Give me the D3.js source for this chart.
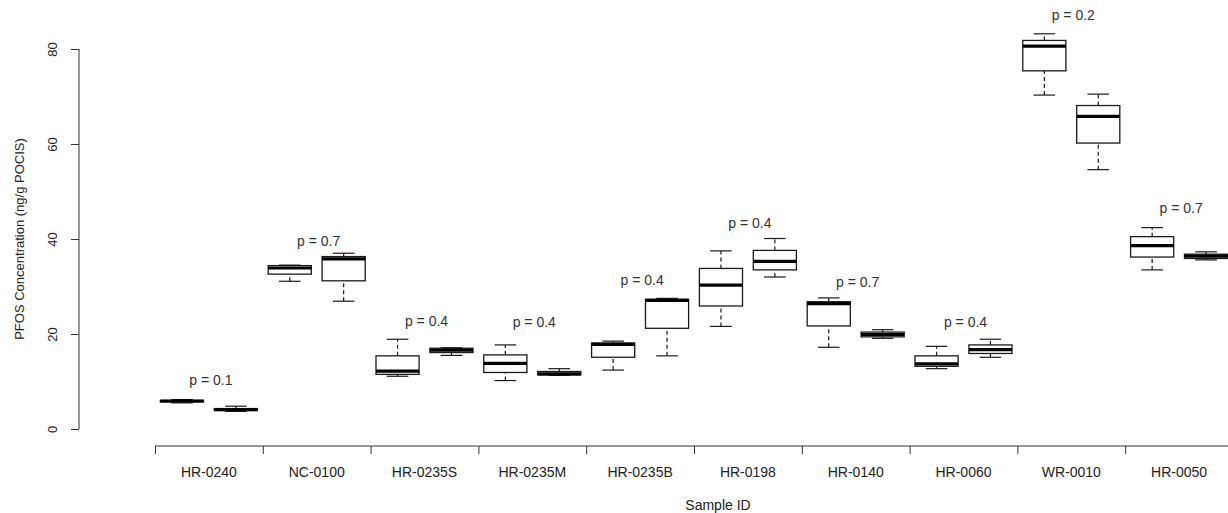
<!DOCTYPE html>
<html>
<head>
<meta charset="utf-8">
<script src="https://cdn.jsdelivr.net/npm/d3@7"></script>
<style>
  html, body { margin: 0; padding: 0; background: #fff; }
  svg { display: block; font-family: "Liberation Sans", Arial, sans-serif; }
</style>
</head>
<body>
<svg id="chart" width="1228" height="513"></svg>
<script>
// ---- data ----
const categories = ["HR-0240","NC-0100","HR-0235S","HR-0235M","HR-0235B","HR-0198","HR-0140","HR-0060","WR-0010","HR-0050"];
// five-number summaries [min, q1, median, q3, max] for the first box of each pair
const seriesA = [
  [5.5, 5.7, 5.9, 6.0, 6.2],
  [31.1, 32.6, 33.9, 34.4, 34.5],
  [11.1, 11.5, 12.2, 15.4, 18.9],
  [10.2, 11.9, 13.8, 15.6, 17.7],
  [12.4, 15.1, 17.8, 18.1, 18.5],
  [21.6, 25.9, 30.3, 33.8, 37.5],
  [17.2, 21.7, 26.4, 26.8, 27.6],
  [12.7, 13.2, 13.7, 15.4, 17.4],
  [70.3, 75.4, 80.6, 81.8, 83.2],
  [33.5, 36.2, 38.6, 40.5, 42.4]
];
// second box of each pair
const seriesB = [
  [3.7, 3.9, 4.1, 4.3, 4.8],
  [26.9, 31.2, 35.8, 36.3, 37.0],
  [15.5, 16.1, 16.6, 17.0, 17.1],
  [11.3, 11.4, 11.6, 12.1, 12.7],
  [15.4, 21.2, 27.1, 27.3, 27.5],
  [32.0, 33.5, 35.3, 37.6, 40.1],
  [19.1, 19.4, 19.9, 20.4, 20.9],
  [15.1, 15.9, 16.7, 17.7, 18.9],
  [54.6, 60.2, 65.8, 68.1, 70.5],
  [35.6, 35.9, 36.4, 36.8, 37.3]
];
const pLabels = ["p = 0.1","p = 0.7","p = 0.4","p = 0.4","p = 0.4","p = 0.4","p = 0.7","p = 0.4","p = 0.2","p = 0.7"];
const pLabelY = [10.2, 39.6, 22.8, 22.5, 31.4, 43.3, 31.0, 22.6, 87.2, 46.5];
const yTicks = [0, 20, 40, 60, 80];
const yTitle = "PFOS Concentration (ng/g POCIS)";
const xTitle = "Sample ID";

// ---- layout ----
const svg = d3.select("#chart");
const x = d3.scaleLinear().domain([0.5, 20.5]).range([155, 1233]);
const y = d3.scaleLinear().domain([0, 80]).range([429, 49]);
const step = x(2) - x(1);
const boxW = 0.8 * step;
const capW = 0.5 * boxW;
const ink = "#1a1a1a";

// y axis
const yAxis = d3.axisLeft(y).tickValues(yTicks).tickSize(8);
const gy = svg.append("g").attr("transform", "translate(79,0)").call(yAxis);
gy.select(".domain").attr("stroke", "#333").attr("d", `M0,${y(0)}V${y(80)}`);
gy.selectAll(".tick line").attr("stroke", "#333");
gy.selectAll(".tick text")
  .attr("font-size", 13).attr("fill", "#222")
  .attr("x", null).attr("y", null).attr("dy", null)
  .attr("transform", "translate(-22,0) rotate(-90)")
  .attr("dy", "-0.0em")
  .attr("text-anchor", "middle");

svg.append("text")
  .attr("transform", `translate(24,${(y(0)+y(80))/2}) rotate(-90)`)
  .attr("text-anchor", "middle").attr("font-size", 13).attr("fill", "#222")
  .text(yTitle);

// x axis
const groupTicks = categories.map((c, i) => 0.5 + 2 * i);
const xAxis = d3.axisBottom(x).tickValues(groupTicks).tickSize(8).tickFormat("");
const gx = svg.append("g").attr("transform", "translate(0,446)").call(xAxis);
gx.select(".domain").attr("stroke", "#333").attr("d", `M${x(0.5)},0H1228`);
gx.selectAll(".tick line").attr("stroke", "#333");

svg.append("g").selectAll("text").data(categories).join("text")
  .attr("x", (d, i) => x(1.5 + 2 * i))
  .attr("y", 477)
  .attr("text-anchor", "middle").attr("font-size", 14).attr("fill", "#222")
  .text(d => d);

svg.append("text")
  .attr("x", 718).attr("y", 510)
  .attr("text-anchor", "middle").attr("font-size", 14).attr("fill", "#222")
  .text(xTitle);

// boxes
const boxes = [];
categories.forEach((c, i) => {
  boxes.push({ pos: 1 + 2 * i, s: seriesA[i] });
  boxes.push({ pos: 2 + 2 * i, s: seriesB[i] });
});

const gb = svg.append("g").selectAll("g").data(boxes).join("g");
// whiskers (dashed)
gb.append("line")
  .attr("x1", d => x(d.pos)).attr("x2", d => x(d.pos))
  .attr("y1", d => y(d.s[0])).attr("y2", d => y(d.s[1]))
  .attr("stroke", ink).attr("stroke-width", 1.2).attr("stroke-dasharray", "4,3");
gb.append("line")
  .attr("x1", d => x(d.pos)).attr("x2", d => x(d.pos))
  .attr("y1", d => y(d.s[3])).attr("y2", d => y(d.s[4]))
  .attr("stroke", ink).attr("stroke-width", 1.2).attr("stroke-dasharray", "4,3");
// staples
[0, 4].forEach(k => {
  gb.append("line")
    .attr("x1", d => x(d.pos) - capW / 2).attr("x2", d => x(d.pos) + capW / 2)
    .attr("y1", d => y(d.s[k])).attr("y2", d => y(d.s[k]))
    .attr("stroke", ink).attr("stroke-width", 1.2);
});
// box
gb.append("rect")
  .attr("x", d => x(d.pos) - boxW / 2).attr("width", boxW)
  .attr("y", d => y(d.s[3])).attr("height", d => Math.max(0.5, y(d.s[1]) - y(d.s[3])))
  .attr("fill", "#fff").attr("stroke", ink).attr("stroke-width", 1.3);
// median
gb.append("line")
  .attr("x1", d => x(d.pos) - boxW / 2).attr("x2", d => x(d.pos) + boxW / 2)
  .attr("y1", d => y(d.s[2])).attr("y2", d => y(d.s[2]))
  .attr("stroke", "#000").attr("stroke-width", 3.2);

// p labels
svg.append("g").selectAll("text").data(pLabels).join("text")
  .attr("x", (d, i) => x(1.5 + 2 * i) + 2)
  .attr("y", (d, i) => y(pLabelY[i]))
  .attr("dy", "0.35em")
  .attr("text-anchor", "middle").attr("font-size", 14).attr("fill", "#333")
  .text(d => d);
</script>
</body>
</html>
